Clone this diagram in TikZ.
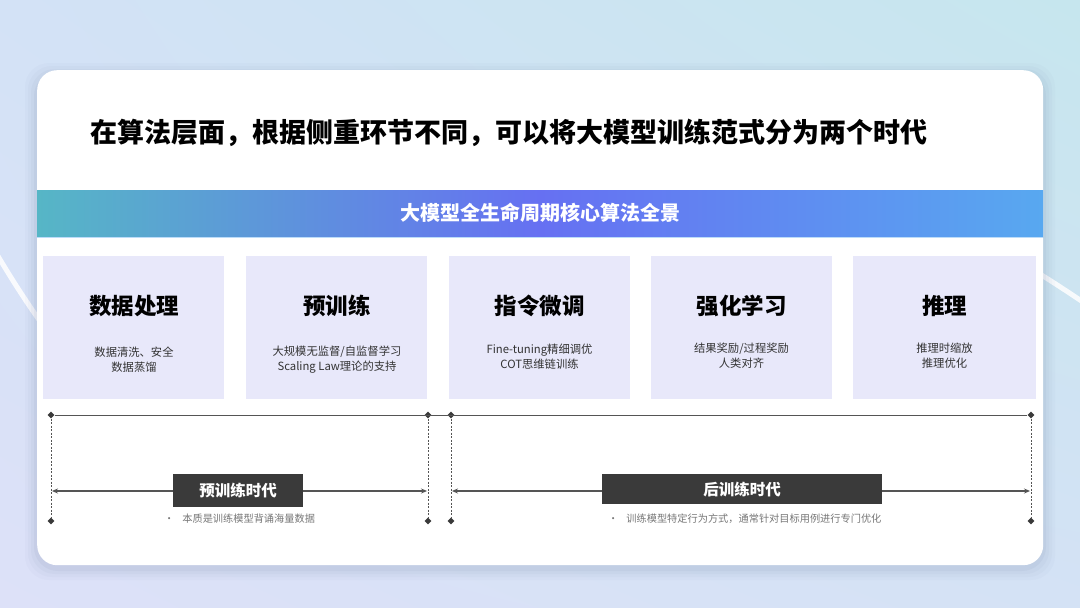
\documentclass[tikz,border=0pt]{standalone}
\usepackage{fontspec}
\setmainfont{Noto Sans CJK SC}
\usetikzlibrary{arrows.meta,shapes.geometric,shadings}
\definecolor{bgTL}{HTML}{D3E2F6}
\definecolor{bgTR}{HTML}{C6E6EE}
\definecolor{bgBL}{HTML}{DDE1F8}
\definecolor{bgBR}{HTML}{D4E2F5}
\definecolor{boxfill}{HTML}{E8E8FA}
\definecolor{banL}{HTML}{56B6C6}
\definecolor{banM}{HTML}{6670F2}
\definecolor{banR}{HTML}{58A8F0}
\definecolor{darklab}{HTML}{3A3A3A}
\definecolor{linegray}{HTML}{555555}
\definecolor{subgray}{HTML}{333333}
\definecolor{notegray}{HTML}{777777}
\definecolor{shadowc}{HTML}{6A7AA0}
\tikzset{
  stagebox/.style={rectangle, fill=boxfill, draw=none, minimum width=181pt, minimum height=143pt, anchor=north west, inner sep=0pt},
  stagetitle/.style={font=\fontsize{22.5}{26}\selectfont\bfseries, text=black, inner sep=0pt},
  stagesub/.style={font=\fontsize{11.3}{15}\selectfont, text=subgray, align=center, inner sep=0pt},
  eralabel/.style={rectangle, fill=darklab, text=white, font=\fontsize{15.5}{18}\selectfont\bfseries, inner sep=0pt, anchor=north west},
  note/.style={font=\fontsize{10.2}{12}\selectfont, text=notegray, inner sep=0pt, anchor=west},
  tdot/.style={diamond, fill=darklab, inner sep=0pt, minimum size=7pt},
  vdash/.style={dashed, dash pattern=on 2pt off 1.5pt, draw=linegray, line width=0.8pt},
  spanarrow/.style={{Stealth[length=6pt,width=5pt]}-{Stealth[length=6pt,width=5pt]}, draw=linegray, line width=1.1pt},
  bgarc/.style={white, line width=5pt, opacity=0.85},
}
\begin{document}
\begin{tikzpicture}[x=1pt,y=-1pt]
\useasboundingbox (0,0) rectangle (1080,608);
% background
\shade[upper left=bgTL, upper right=bgTR, lower left=bgBL, lower right=bgBR] (0,0) rectangle (1080,608);
% white arcs
\draw[bgarc] (-8,246) .. controls (12,280) and (28,305) .. (50,335);
\draw[bgarc] (1030,268) .. controls (1050,280) and (1065,290) .. (1092,308);
% card shadow
\foreach \s/\o in {12/0.03,9/0.04,6/0.05,3/0.07}{
  \fill[shadowc, opacity=\o, rounded corners=24pt] (37-\s,70-\s+5) rectangle (1043+\s,565+\s+3);
}
% card
\node[rectangle, fill=white, rounded corners=20pt, minimum width=1006pt, minimum height=495pt, anchor=north west, inner sep=0pt] (card) at (37,70) {};
% title
\node[anchor=west, inner sep=0pt, font=\fontsize{27}{30}\selectfont\bfseries] (title) at (90,133) {在算法层面，根据侧重环节不同，可以将大模型训练范式分为两个时代};
% banner
\shade[left color=banL, right color=banR, middle color=banM] (37,190) rectangle (1043,237);
\draw[color=banR!40!white, line width=1pt] (37,237) -- (1043,237);
\node[inner sep=0pt, text=white, font=\fontsize{20}{24}\selectfont\bfseries] (banner) at (540,213) {大模型全生命周期核心算法全景};
% stage boxes
\node[stagebox] (b1) at (43,256) {};
\node[stagebox] (b2) at (246,256) {};
\node[stagebox] (b3) at (449,256) {};
\node[stagebox] (b4) at (651,256) {};
\node[stagebox, minimum width=183pt] (b5) at (853,256) {};
\node[stagetitle] (t1) at (134,306) {数据处理};
\node[stagetitle] (t2) at (337,306) {预训练};
\node[stagetitle] (t3) at (539.5,306) {指令微调};
\node[stagetitle] (t4) at (741.5,306) {强化学习};
\node[stagetitle] (t5) at (944.5,306) {推理};
\node[stagesub] (s1) at (134,360) {数据清洗、安全\\数据蒸馏};
\node[stagesub] (s2) at (337,360) {大规模无监督/自监督学习\\Scaling Law理论的支持};
\node[stagesub] (s3) at (539.5,357) {Fine-tuning精细调优\\COT思维链训练};
\node[stagesub] (s4) at (741.5,356) {结果奖励/过程奖励\\人类对齐};
\node[stagesub] (s5) at (944.5,356) {推理时缩放\\推理优化};
% timeline dots
\node[tdot] (a1) at (51,415) {};
\node[tdot] (a2) at (428,415) {};
\node[tdot] (a3) at (451,415) {};
\node[tdot] (a4) at (1031,415) {};
\node[tdot] (c1) at (51,521) {};
\node[tdot] (c2) at (428,521) {};
\node[tdot] (c3) at (451,521) {};
\node[tdot] (c4) at (1031,521) {};
\draw[draw=linegray, line width=0.9pt] (a1) -- (a4);
\draw[vdash] (a1) -- (c1);
\draw[vdash] (a2) -- (c2);
\draw[vdash] (a3) -- (c3);
\draw[vdash] (a4) -- (c4);
% span arrows
\coordinate (l1) at (52,491);
\coordinate (l2) at (427,491);
\coordinate (r1) at (452,491);
\coordinate (r2) at (1030,491);
\draw[spanarrow] (l1) -- (l2);
\draw[spanarrow] (r1) -- (r2);
% era labels
\node[eralabel, minimum width=130pt, minimum height=33pt] (e1) at (173,474) {预训练时代};
\node[eralabel, minimum width=280pt, minimum height=30pt] (e2) at (602,474) {后训练时代};
% notes
\node[note] (n1) at (164,519) {•\hspace{8pt}本质是训练模型背诵海量数据};
\node[note] (n2) at (608,519) {•\hspace{8pt}训练模型特定行为方式，通常针对目标用例进行专门优化};
\end{tikzpicture}
\end{document}
